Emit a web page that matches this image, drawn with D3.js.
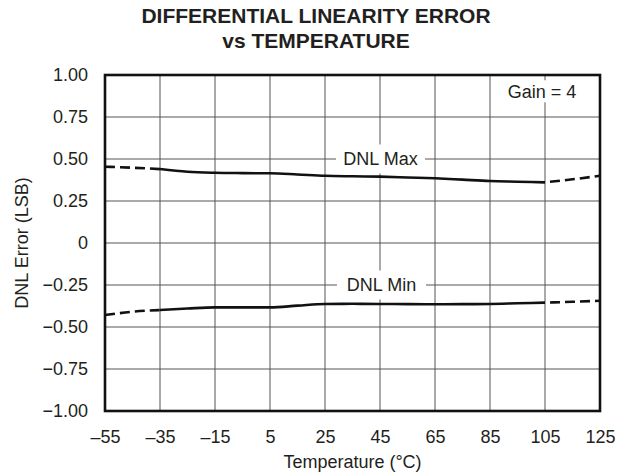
<!DOCTYPE html>
<html>
<head>
<meta charset="utf-8">
<script src="https://cdn.jsdelivr.net/npm/d3@7"></script>
<style>
body { margin: 0; background: #fff; }
text { font-family: "Liberation Sans", Arial, sans-serif; fill: #231f20; }
</style>
</head>
<body>
<svg width="627" height="476"></svg>
<script>
// values
var temps   = [-55, -45, -35, -25, -15, -5, 5, 15, 25, 35, 45, 55, 65, 75, 85, 95, 105, 115, 125];
var dnlMax  = [0.454, 0.448, 0.440, 0.424, 0.418, 0.416, 0.415, 0.408, 0.400, 0.397, 0.395, 0.390, 0.385, 0.377, 0.369, 0.365, 0.361, 0.379, 0.400];
var dnlMin  = [-0.429, -0.409, -0.399, -0.390, -0.383, -0.383, -0.383, -0.373, -0.363, -0.362, -0.363, -0.364, -0.365, -0.364, -0.363, -0.359, -0.355, -0.350, -0.344];
var xTicks  = [-55, -35, -15, 5, 25, 45, 65, 85, 105, 125];
var yTicks  = [-1, -0.75, -0.5, -0.25, 0, 0.25, 0.5, 0.75, 1];

var svg = d3.select("svg");
var margin = {top: 75, right: 27, bottom: 65, left: 105};
var width = 627 - margin.left - margin.right;
var height = 476 - margin.top - margin.bottom;

var xScale = d3.scaleLinear().domain([-55, 125]).range([0, width]);
var yScale = d3.scaleLinear().domain([-1, 1]).range([height, 0]);

var g = svg.append("g").attr("transform", "translate(" + margin.left + "," + margin.top + ")");

function fmtY(d) {
  if (d == 0) return "0";
  return d3.format(".2f")(d).replace("-", "\u2013");
}
function fmtX(d) { return String(d).replace("-", "\u2013"); }

// grid
g.append("g").selectAll("line").data(xTicks.slice(1, -1)).enter().append("line")
  .attr("x1", function(d) { return xScale(d); }).attr("x2", function(d) { return xScale(d); })
  .attr("y1", 0).attr("y2", height)
  .attr("stroke", "#555").attr("stroke-width", 1);
g.append("g").selectAll("line").data(yTicks.slice(1, -1)).enter().append("line")
  .attr("y1", function(d) { return yScale(d); }).attr("y2", function(d) { return yScale(d); })
  .attr("x1", 0).attr("x2", width)
  .attr("stroke", "#555").attr("stroke-width", 1);

// axes (labels only)
var xAxis = d3.axisBottom(xScale).tickValues(xTicks).tickFormat(fmtX).tickSize(0).tickPadding(19);
var yAxis = d3.axisLeft(yScale).tickValues(yTicks).tickFormat(fmtY).tickSize(0).tickPadding(17);
var gx = g.append("g").attr("transform", "translate(0," + height + ")").call(xAxis);
var gy = g.append("g").call(yAxis);
[gx, gy].forEach(function(a) {
  a.select(".domain").remove();
  a.selectAll("text").style("font-family", "'Liberation Sans', Arial, sans-serif").style("font-size", "18px").attr("fill", "#231f20");
});

// curves
var pts = function(vals) { return temps.map(function(t, i) { return {t: t, v: vals[i]}; }); };
var line = d3.line().x(function(d) { return xScale(d.t); }).y(function(d) { return yScale(d.v); }).curve(d3.curveMonotoneX);

[dnlMax, dnlMin].forEach(function(vals) {
  var p = pts(vals);
  g.append("path").datum(p.filter(function(d) { return d.t <= -35; }))
    .attr("d", line).attr("fill", "none").attr("stroke", "#111").attr("stroke-width", 2.6).attr("stroke-dasharray", "10,5");
  g.append("path").datum(p.filter(function(d) { return d.t >= -35 && d.t <= 105; }))
    .attr("d", line).attr("fill", "none").attr("stroke", "#111").attr("stroke-width", 2.6);
  g.append("path").datum(p.filter(function(d) { return d.t >= 105; }))
    .attr("d", line).attr("fill", "none").attr("stroke", "#111").attr("stroke-width", 2.6).attr("stroke-dasharray", "10,5").attr("stroke-dashoffset", -5);
});

// labels with white boxes
function boxLabel(txt, cx, cy, bw, bh) {
  g.append("rect").attr("x", cx - bw / 2).attr("y", cy - bh / 2).attr("width", bw).attr("height", bh).attr("fill", "#fff");
  g.append("text").attr("x", cx).attr("y", cy).attr("dy", "0.35em")
    .attr("text-anchor", "middle").style("font-size", "18px").text(txt);
}
boxLabel("DNL Max", xScale(45) + 0.5, yScale(0.5), 89, 29);
boxLabel("DNL Min", xScale(45) + 1.5, yScale(-0.25), 89, 29);
boxLabel("Gain = 4", xScale(105) - 3, yScale(0.9) - 0.5, 80, 22);

// frame
g.append("rect").attr("width", width).attr("height", height)
  .attr("fill", "none").attr("stroke", "#111").attr("stroke-width", 2.6);

// titles
svg.append("text").attr("x", 316).attr("y", 23).attr("text-anchor", "middle")
  .style("font-size", "21px").style("font-weight", "bold").text("DIFFERENTIAL LINEARITY ERROR");
svg.append("text").attr("x", 316).attr("y", 48).attr("text-anchor", "middle")
  .style("font-size", "21px").style("font-weight", "bold").text("vs TEMPERATURE");

svg.append("text").attr("x", margin.left + width / 2).attr("y", 468).attr("text-anchor", "middle")
  .style("font-size", "18px").text("Temperature (\u00b0C)");
svg.append("text").attr("transform", "rotate(-90)")
  .attr("x", -(margin.top + height / 2)).attr("y", 28).attr("text-anchor", "middle")
  .style("font-size", "18px").text("DNL Error (LSB)");
</script>
</body>
</html>
